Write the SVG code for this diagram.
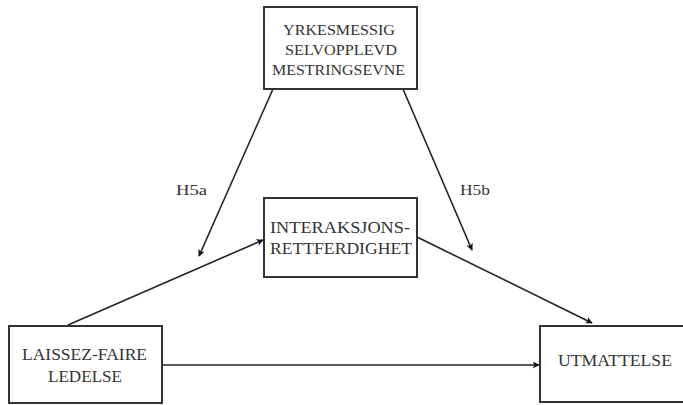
<svg xmlns="http://www.w3.org/2000/svg" width="683" height="405" viewBox="0 0 683 405">
<style>
.box{fill:#fff;stroke:#333;stroke-width:2}
.t{font-family:"Liberation Serif","Times New Roman",serif;font-size:17px;fill:#333;text-anchor:middle}
.s{font-size:15px}
.l{font-family:"Liberation Serif","Times New Roman",serif;font-size:15px;fill:#333}
.c{stroke:#222;stroke-width:1.6;fill:none;marker-end:url(#ah)}
</style>
<defs>
<marker id="ah" viewBox="0 0 10 10" refX="9" refY="5" markerWidth="7" markerHeight="7" markerUnits="userSpaceOnUse" orient="auto">
<path d="M0,0 L10,5 L0,10 L2.5,5 z" fill="#111"/>
</marker>
</defs>
<rect width="683" height="405" fill="#fff"/>
<g id="connectors">
<line class="c" x1="273" y1="89" x2="199" y2="256"/>
<line class="c" x1="403" y1="89" x2="472" y2="250"/>
<line class="c" x1="68" y1="325" x2="263" y2="240"/>
<line class="c" x1="417" y1="237" x2="592" y2="323"/>
<line class="c" x1="162" y1="365" x2="539" y2="365"/>
</g>
<g id="mestring">
<rect class="box" x="264" y="7" width="153" height="82"/>
<text class="t s" x="339" y="35" textLength="112" lengthAdjust="spacingAndGlyphs">YRKESMESSIG</text>
<text class="t s" x="341" y="55" textLength="112" lengthAdjust="spacingAndGlyphs">SELVOPPLEVD</text>
<text class="t s" x="338.5" y="75" textLength="133" lengthAdjust="spacingAndGlyphs">MESTRINGSEVNE</text>
</g>
<g id="interaksjon">
<rect class="box" x="264" y="198" width="153" height="79"/>
<text class="t" x="340" y="233" textLength="140" lengthAdjust="spacingAndGlyphs">INTERAKSJONS-</text>
<text class="t" x="341" y="254" textLength="142" lengthAdjust="spacingAndGlyphs">RETTFERDIGHET</text>
</g>
<g id="laissez">
<rect class="box" x="9" y="326" width="153" height="77"/>
<text class="t" x="84.5" y="360" textLength="125" lengthAdjust="spacingAndGlyphs">LAISSEZ-FAIRE</text>
<text class="t" x="85" y="382" textLength="74" lengthAdjust="spacingAndGlyphs">LEDELSE</text>
</g>
<g id="utmattelse">
<rect class="box" x="540" y="326" width="150" height="76"/>
<text class="t" x="615" y="366" textLength="114" lengthAdjust="spacingAndGlyphs">UTMATTELSE</text>
</g>
<g id="labels">
<text class="l" x="176" y="195" textLength="31" lengthAdjust="spacingAndGlyphs">H5a</text>
<text class="l" x="460" y="195" textLength="30" lengthAdjust="spacingAndGlyphs">H5b</text>
</g>
</svg>
